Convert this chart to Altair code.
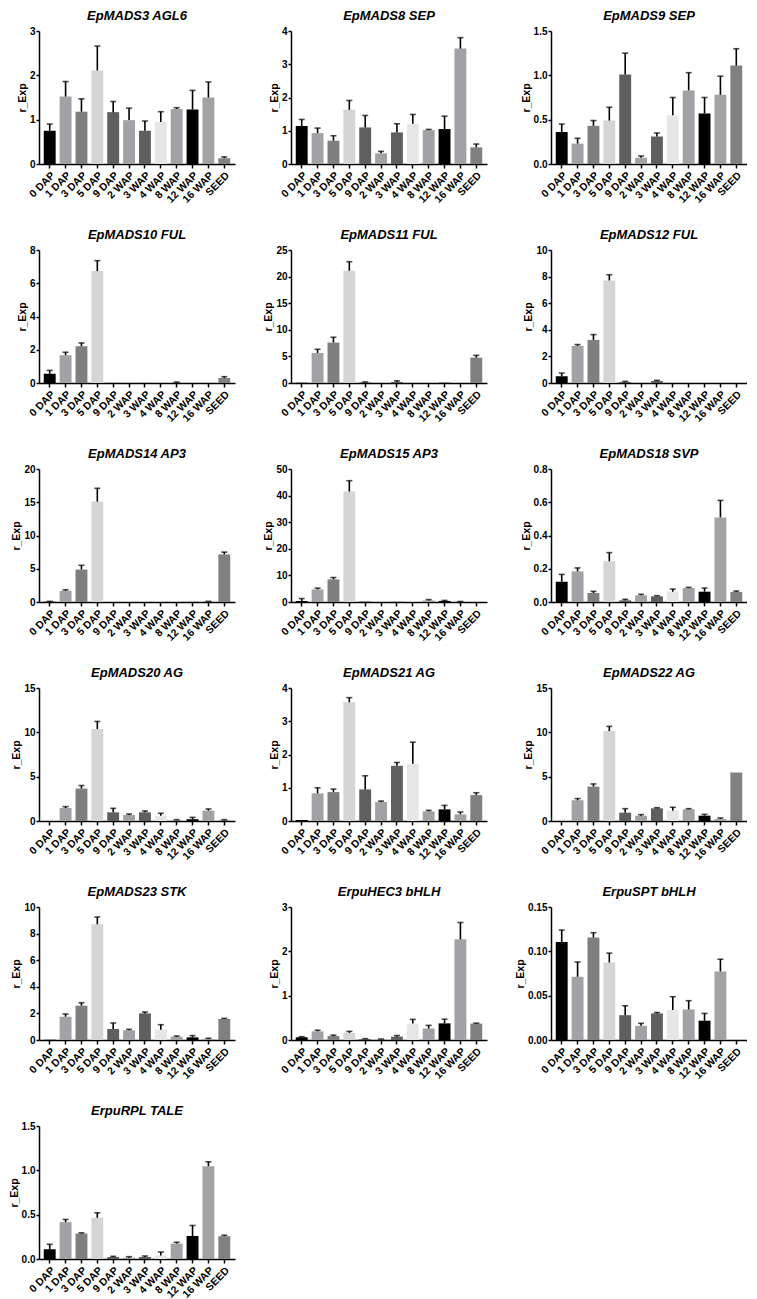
import altair as alt
import pandas as pd

categories = ["0 DAP", "1 DAP", "3 DAP", "5 DAP", "9 DAP", "2 WAP", "3 WAP",
              "4 WAP", "8 WAP", "12 WAP", "16 WAP", "SEED"]
bar_colors = ["#000000", "#a2a2a6", "#7f7f7f", "#d5d5d5", "#5f5f5f", "#a2a2a6",
              "#5f5f5f", "#e6e6e6", "#a2a2a6", "#000000", "#a2a2a6", "#808080"]

gene_names = ["EpMADS3 AGL6", "EpMADS8 SEP", "EpMADS9 SEP",
              "EpMADS10 FUL", "EpMADS11 FUL", "EpMADS12 FUL",
              "EpMADS14 AP3", "EpMADS15 AP3", "EpMADS18 SVP",
              "EpMADS20 AG", "EpMADS21 AG", "EpMADS22 AG",
              "EpMADS23 STK", "ErpuHEC3 bHLH", "ErpuSPT bHLH",
              "ErpuRPL TALE"]

m_mads3 = [0.75, 1.52, 1.18, 2.11, 1.17, 0.99, 0.75, 0.95, 1.24, 1.23, 1.50, 0.13]
sd_mads3 = [0.15, 0.34, 0.29, 0.55, 0.24, 0.27, 0.22, 0.23, 0.03, 0.43, 0.35, 0.03]
m_mads8 = [1.14, 0.93, 0.70, 1.63, 1.10, 0.32, 0.95, 1.21, 1.02, 1.05, 3.47, 0.50]
sd_mads8 = [0.20, 0.15, 0.15, 0.28, 0.36, 0.06, 0.26, 0.28, 0.02, 0.39, 0.33, 0.10]
m_mads9 = [0.36, 0.23, 0.43, 0.49, 1.01, 0.07, 0.31, 0.55, 0.83, 0.57, 0.78, 1.11]
sd_mads9 = [0.09, 0.06, 0.06, 0.15, 0.24, 0.02, 0.04, 0.20, 0.20, 0.18, 0.21, 0.19]
m_mads10 = [0.56, 1.67, 2.21, 6.73, 0.01, 0.01, 0.01, 0.0, 0.03, 0.0, 0.0, 0.30]
sd_mads10 = [0.20, 0.18, 0.20, 0.63, 0, 0, 0, 0, 0.03, 0, 0, 0.08]
m_mads11 = [0.05, 5.65, 7.6, 21.1, 0.1, 0.0, 0.2, 0.0, 0.0, 0.05, 0.0, 4.77]
sd_mads11 = [0, 0.69, 1.0, 1.7, 0.1, 0, 0.2, 0, 0, 0, 0, 0.43]
m_mads12 = [0.5, 2.79, 3.24, 7.71, 0.08, 0, 0.15, 0, 0, 0, 0, 0]
sd_mads12 = [0.25, 0.10, 0.40, 0.43, 0.04, 0, 0.05, 0, 0, 0, 0, 0]
m_mads14 = [0.05, 1.69, 4.88, 15.1, 0, 0, 0, 0, 0, 0.02, 0.05, 7.16]
sd_mads14 = [0.05, 0.15, 0.64, 2.0, 0, 0, 0, 0, 0, 0, 0.05, 0.34]
m_mads15 = [0.4, 4.7, 8.5, 41.5, 0.2, 0, 0.1, 0.1, 0.6, 0.4, 0.1, 0]
sd_mads15 = [0.9, 0.5, 0.7, 4.1, 0, 0, 0, 0, 0.3, 0.2, 0.1, 0]
m_mads18 = [0.122, 0.184, 0.054, 0.245, 0.010, 0.040, 0.034, 0.062, 0.084, 0.062, 0.509, 0.060]
sd_mads18 = [0.044, 0.021, 0.010, 0.052, 0.006, 0.006, 0.004, 0.016, 0.004, 0.022, 0.102, 0.006]
m_mads20 = [0.0, 1.47, 3.66, 10.37, 0.98, 0.68, 0.98, 0.60, 0.08, 0.2, 1.17, 0.07]
sd_mads20 = [0, 0.15, 0.34, 0.86, 0.45, 0.11, 0.15, 0.27, 0.07, 0.21, 0.19, 0.08]
m_mads21 = [0.03, 0.83, 0.87, 3.57, 0.95, 0.57, 1.66, 1.72, 0.29, 0.35, 0.20, 0.78]
sd_mads21 = [0, 0.17, 0.09, 0.14, 0.41, 0.03, 0.10, 0.65, 0.03, 0.12, 0.07, 0.07]
m_mads22 = [0, 2.34, 3.88, 10.14, 0.94, 0.60, 1.43, 1.17, 1.32, 0.60, 0.23, 5.47]
sd_mads22 = [0, 0.19, 0.30, 0.53, 0.45, 0.12, 0.07, 0.38, 0.07, 0.15, 0.11, 0]
m_mads23 = [0.02, 1.75, 2.58, 8.70, 0.83, 0.73, 2.0, 0.78, 0.25, 0.20, 0.08, 1.58]
sd_mads23 = [0, 0.20, 0.22, 0.55, 0.45, 0.07, 0.10, 0.37, 0.05, 0.13, 0.05, 0.05]
m_hec3 = [0.06, 0.195, 0.09, 0.16, 0.02, 0.015, 0.075, 0.37, 0.26, 0.375, 2.27, 0.37]
sd_hec3 = [0.015, 0.025, 0.02, 0.035, 0.01, 0.007, 0.025, 0.095, 0.07, 0.095, 0.38, 0.01]
m_spt = [0.1106, 0.0713, 0.1155, 0.0874, 0.028, 0.016, 0.030, 0.0338, 0.0345, 0.0218, 0.0773, 0.0]
sd_spt = [0.0134, 0.0167, 0.0055, 0.0106, 0.0106, 0.0028, 0.001, 0.015, 0.0098, 0.0082, 0.0138, 0]
m_rpl = [0.11, 0.416, 0.287, 0.465, 0.023, 0.015, 0.023, 0.04, 0.174, 0.26, 1.046, 0.257]
sd_rpl = [0.056, 0.030, 0.008, 0.056, 0.007, 0.011, 0.011, 0.039, 0.015, 0.118, 0.050, 0.011]

means = [m_mads3, m_mads8, m_mads9, m_mads10, m_mads11, m_mads12, m_mads14,
         m_mads15, m_mads18, m_mads20, m_mads21, m_mads22, m_mads23, m_hec3,
         m_spt, m_rpl]
sds = [sd_mads3, sd_mads8, sd_mads9, sd_mads10, sd_mads11, sd_mads12, sd_mads14,
       sd_mads15, sd_mads18, sd_mads20, sd_mads21, sd_mads22, sd_mads23, sd_hec3,
       sd_spt, sd_rpl]

y_ticks = [
    [0, 1, 2, 3], [0, 1, 2, 3, 4], [0, 0.5, 1.0, 1.5],
    [0, 2, 4, 6, 8], [0, 5, 10, 15, 20, 25], [0, 2, 4, 6, 8, 10],
    [0, 5, 10, 15, 20], [0, 10, 20, 30, 40, 50], [0, 0.2, 0.4, 0.6, 0.8],
    [0, 5, 10, 15], [0, 1, 2, 3, 4], [0, 5, 10, 15],
    [0, 2, 4, 6, 8, 10], [0, 1, 2, 3], [0, 0.05, 0.10, 0.15],
    [0, 0.5, 1.0, 1.5],
]
y_formats = ["d", "d", ".1f", "d", "d", "d", "d", "d", ".1f", "d", "d", "d",
             "d", "d", ".2f", ".1f"]

FONT = "Liberation Sans"
W, H = 196, 133

panels = []
for name, mv, sv, ticks, fmt in zip(gene_names, means, sds, y_ticks, y_formats):
    df = pd.DataFrame({"cat": categories, "val": mv, "sd": sv})
    df["top"] = df["val"] + df["sd"]
    x = alt.X("cat:N", sort=categories, title=None,
              scale=alt.Scale(paddingInner=0.25, paddingOuter=0.3),
              axis=alt.Axis(labelAngle=-45, labelOverlap=False))
    y_scale = alt.Scale(domain=[0, ticks[-1]], nice=False, zero=True)
    y_axis = alt.Axis(title="r_Exp", values=ticks, format=fmt, labelOverlap=False)
    base = alt.Chart(df)
    bars = base.mark_bar().encode(
        x=x,
        y=alt.Y("val:Q", scale=y_scale, axis=y_axis),
        color=alt.Color("cat:N", scale=alt.Scale(domain=categories, range=bar_colors),
                        legend=None),
    )
    err = base.transform_filter("datum.sd > 0")
    rule = err.mark_rule(color="black", strokeWidth=1.6).encode(
        x=x, y=alt.Y("val:Q", scale=y_scale, axis=y_axis), y2="top:Q")
    cap = err.mark_tick(color="black", thickness=1.6, size=6).encode(
        x=x, y=alt.Y("top:Q", scale=y_scale, axis=y_axis))
    panel = alt.layer(bars, rule, cap).properties(
        width=W, height=H,
        title=alt.TitleParams(name, fontStyle="italic", fontWeight="bold",
                              fontSize=13, font=FONT, offset=3),
    )
    panels.append(panel)

chart = alt.concat(*panels, columns=3, spacing={"row": 24, "column": 28}).properties(
    padding={"left": 1, "top": 2, "right": 0, "bottom": 0}
).configure(font=FONT).configure_view(stroke=None).configure_axis(
    grid=False,
    domainColor="black", domainWidth=1.5,
    tickColor="black", tickWidth=1.5, tickSize=3,
    labelColor="black", labelFont=FONT, labelFontSize=10, labelFontWeight="bold",
    labelPadding=1,
    titleColor="black", titleFont=FONT, titleFontSize=10.5, titleFontWeight="bold",
    titlePadding=2,
).configure_axisX(minExtent=40, maxExtent=40, tickSize=4, labelPadding=2,
                  labelFontSize=10.5)

chart.save("out.html", embed_options={"renderer": "svg", "actions": False})
